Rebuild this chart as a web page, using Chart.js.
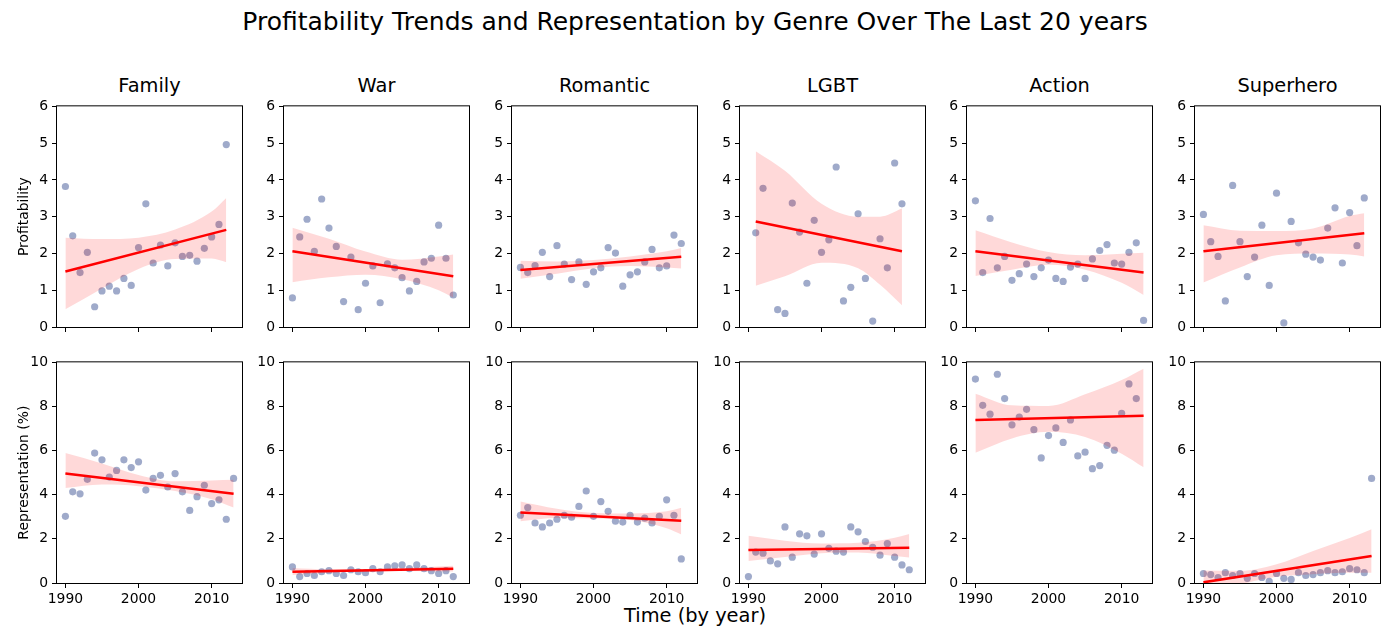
<!DOCTYPE html>
<html>
<head>
<meta charset="utf-8">
<script src="https://cdn.jsdelivr.net/npm/chart.js@4.4.0/dist/chart.umd.min.js"></script>
<style>
body { margin: 0; background: #fff; width: 1390px; height: 636px; position: relative; overflow: hidden; font-family: 'DejaVu Sans', sans-serif; }
canvas { position: absolute; }
.txt { position: absolute; white-space: nowrap; color: #000; line-height: 1; text-align: center; }
</style>
</head>
<body>
<script>
// genres and axes
const genres = ['Family', 'War', 'Romantic', 'LGBT', 'Action', 'Superhero'];
const xTicks = [1990, 2000, 2010];

const years90to12 = [1990, 1991, 1992, 1993, 1994, 1995, 1996, 1997, 1998, 1999, 2000, 2001,
                     2002, 2003, 2004, 2005, 2006, 2007, 2008, 2009, 2010, 2011, 2012];
const years90to13 = [1990, 1991, 1992, 1993, 1994, 1995, 1996, 1997, 1998, 1999, 2000, 2001,
                     2002, 2003, 2004, 2005, 2006, 2007, 2008, 2009, 2010, 2011, 2012, 2013];
const lgbtProfitYears = [1991, 1992, 1994, 1995, 1996, 1997, 1998, 1999, 2000, 2001,
                         2002, 2003, 2004, 2005, 2006, 2007, 2008, 2009, 2010, 2011];

// profitability
const familyProfit = [3.82, 2.48, 1.48, 2.03, 0.55, 0.98, 1.11, 0.98, 1.32, 1.13, 2.16, 3.35, 1.74, 2.23, 1.66, 2.29, 1.92, 1.95, 1.79, 2.14, 2.45, 2.79, 4.96];
const warProfit = [0.79, 2.45, 2.93, 2.06, 3.48, 2.69, 2.19, 0.69, 1.90, 0.47, 1.19, 1.66, 0.66, 1.72, 1.61, 1.34, 0.98, 1.24, 1.77, 1.87, 2.77, 1.87, 0.87];
const romanticProfit = [1.62, 1.48, 1.67, 2.03, 1.37, 2.21, 1.71, 1.29, 1.77, 1.16, 1.50, 1.61, 2.16, 2.01, 1.11, 1.42, 1.50, 1.77, 2.11, 1.61, 1.66, 2.50, 2.27];
const lgbtProfit = [2.56, 3.77, 0.47, 0.37, 3.37, 2.58, 1.19, 2.90, 2.03, 2.37, 4.35, 0.71, 1.08, 3.08, 1.32, 0.16, 2.40, 1.61, 4.46, 3.35];
const actionProfit = [3.43, 1.48, 2.95, 1.61, 1.92, 1.27, 1.45, 1.71, 1.37, 1.61, 1.82, 1.32, 1.24, 1.63, 1.71, 1.32, 1.85, 2.08, 2.24, 1.74, 1.71, 2.03, 2.29, 0.18];
const superheroProfit = [3.06, 2.32, 1.92, 0.71, 3.85, 2.32, 1.37, 1.90, 2.77, 1.13, 3.64, 0.11, 2.87, 2.29, 1.98, 1.90, 1.82, 2.69, 3.24, 1.74, 3.11, 2.21, 3.51];

// representation (%)
const familyRep = [3.02, 4.13, 4.04, 4.70, 5.89, 5.58, 4.80, 5.10, 5.58, 5.23, 5.49, 4.21, 4.74, 4.88, 4.35, 4.96, 4.13, 3.29, 3.91, 4.43, 3.60, 3.77, 2.89, 4.74];
const warRep = [0.73, 0.29, 0.43, 0.34, 0.51, 0.56, 0.43, 0.34, 0.60, 0.51, 0.47, 0.65, 0.51, 0.73, 0.78, 0.82, 0.65, 0.82, 0.65, 0.56, 0.43, 0.56, 0.29];
const romanticRep = [3.07, 3.42, 2.72, 2.54, 2.72, 2.89, 3.07, 2.98, 3.47, 4.17, 3.02, 3.69, 3.25, 2.80, 2.76, 3.07, 2.76, 2.94, 2.72, 3.02, 3.77, 3.07, 1.09];
const lgbtRep = [0.29, 1.40, 1.35, 1.00, 0.87, 2.54, 1.17, 2.23, 2.14, 1.31, 2.23, 1.57, 1.44, 1.40, 2.54, 2.32, 1.88, 1.62, 1.26, 1.79, 1.17, 0.82, 0.60];
const actionRep = [9.24, 8.05, 7.65, 9.46, 8.36, 7.17, 7.52, 7.87, 6.95, 5.67, 6.68, 7.03, 6.37, 7.39, 5.76, 5.93, 5.18, 5.32, 6.24, 6.02, 7.69, 9.02, 8.36];
const superheroRep = [0.43, 0.38, 0.25, 0.47, 0.34, 0.43, 0.21, 0.43, 0.25, 0.07, 0.43, 0.21, 0.16, 0.47, 0.34, 0.38, 0.47, 0.56, 0.47, 0.51, 0.65, 0.60, 0.47, 4.74];

const profitYears = [years90to12, years90to12, years90to12, lgbtProfitYears, years90to13, years90to12];
const profitValues = [familyProfit, warProfit, romanticProfit, lgbtProfit, actionProfit, superheroProfit];
const repYears = [years90to13, years90to12, years90to12, years90to12, years90to12, years90to13];
const repValues = [familyRep, warRep, romanticRep, lgbtRep, actionRep, superheroRep];

// regression lines: start/end year and value
const profitFitYears = [[1990, 2012], [1990, 2012], [1990, 2012], [1991, 2011], [1990, 2013], [1990, 2012]];
const profitFitValues = [[1.51, 2.64], [2.06, 1.38], [1.55, 1.91], [2.87, 2.06], [2.06, 1.48], [2.06, 2.55]];
const repFitYears = [[1990, 2013], [1990, 2012], [1990, 2012], [1990, 2012], [1990, 2013], [1990, 2013]];
const repFitValues = [[4.96, 4.04], [0.51, 0.65], [3.20, 2.82], [1.50, 1.60], [7.39, 7.58], [0.03, 1.22]];

// confidence bands
const profitBandYears = [
    [1990, 1995, 2000, 2005, 2010, 2012],
    [1990, 1995, 2000, 2005, 2010, 2012],
    [1990, 1995, 2000, 2005, 2010, 2012],
    [1991, 1995, 2000, 2005, 2008, 2011],
    [1990, 1995, 2000, 2005, 2010, 2013],
    [1990, 1995, 2000, 2005, 2010, 2012]
];
const profitBandUpper = [
    [2.43, 2.39, 2.43, 2.65, 3.14, 3.51],
    [2.70, 2.40, 2.05, 1.83, 1.92, 1.97],
    [1.80, 1.78, 1.82, 1.92, 2.06, 2.15],
    [4.78, 4.25, 3.35, 3.00, 3.00, 3.22],
    [2.63, 2.30, 2.04, 1.95, 1.99, 2.02],
    [2.77, 2.62, 2.61, 2.68, 3.02, 3.09]
];
const profitBandLower = [
    [0.48, 1.05, 1.58, 1.85, 1.86, 1.76],
    [1.22, 1.35, 1.42, 1.30, 1.00, 0.80],
    [1.31, 1.45, 1.60, 1.66, 1.62, 1.59],
    [1.12, 1.38, 1.75, 1.60, 1.15, 0.59],
    [1.39, 1.56, 1.69, 1.56, 1.20, 0.87],
    [1.21, 1.62, 1.95, 2.00, 1.97, 1.92]
];
const repBandYears = [
    [1990, 1995, 2000, 2005, 2010, 2013],
    [1990, 1995, 2000, 2005, 2012],
    [1990, 1995, 2000, 2005, 2010, 2012],
    [1990, 1995, 2000, 2005, 2010, 2012],
    [1990, 1995, 2000, 2005, 2010, 2013],
    [1990, 1995, 2000, 2005, 2010, 2013]
];
const repBandUpper = [
    [5.89, 5.42, 4.90, 4.61, 4.65, 4.68],
    [0.68, 0.62, 0.63, 0.68, 0.78],
    [3.69, 3.36, 3.17, 3.15, 3.25, 3.41],
    [2.14, 1.92, 1.79, 1.82, 2.05, 2.22],
    [8.58, 8.05, 8.02, 8.55, 9.20, 9.71],
    [0.57, 0.55, 0.85, 1.45, 2.04, 2.44]
];
const repBandLower = [
    [4.30, 4.46, 4.39, 4.17, 3.80, 3.42],
    [0.36, 0.46, 0.52, 0.54, 0.52],
    [2.80, 2.95, 2.92, 2.85, 2.48, 2.20],
    [1.00, 1.18, 1.35, 1.38, 1.22, 1.16],
    [5.90, 6.55, 6.85, 6.62, 5.86, 5.24],
    [-0.60, -0.08, 0.28, 0.40, 0.46, 0.46]
];

// layout
const panelLeft = [57, 284, 512, 740, 967, 1195];
const rowTop = [100, 356];
const plotW = 185, plotH = 227;
const FONT = "'DejaVu Sans', sans-serif";

function addText(text, left, top, width, size) {
    const d = document.createElement('div');
    d.className = 'txt';
    d.textContent = text;
    d.style.left = left + 'px';
    d.style.top = top + 'px';
    d.style.width = width + 'px';
    d.style.fontSize = size + 'px';
    document.body.appendChild(d);
}

function pairs(xs, ys) {
    return xs.map((x, i) => ({ x: x, y: ys[i] }));
}

// full frame around the plot area
const framePlugin = {
    id: 'frame',
    afterDraw(chart) {
        const { ctx, chartArea: a } = chart;
        ctx.save();
        ctx.strokeStyle = '#000';
        ctx.lineWidth = 1;
        ctx.strokeRect(a.left - 0.5, a.top - 0.5, a.right - a.left + 1, a.bottom - a.top + 1);
        ctx.restore();
    }
};

function makePanel(row, col) {
    const padL = col === 0 ? 57 : 40;
    const padR = 6, padT = 6, padB = 26;
    const canvas = document.createElement('canvas');
    canvas.width = plotW + padL + padR;
    canvas.height = plotH + padT + padB;
    canvas.style.left = (panelLeft[col] - padL) + 'px';
    canvas.style.top = (rowTop[row] - padT) + 'px';
    document.body.appendChild(canvas);

    const years = row === 0 ? profitYears[col] : repYears[col];
    const values = row === 0 ? profitValues[col] : repValues[col];
    const fitX = row === 0 ? profitFitYears[col] : repFitYears[col];
    const fitY = row === 0 ? profitFitValues[col] : repFitValues[col];
    const bandX = row === 0 ? profitBandYears[col] : repBandYears[col];
    const bandU = row === 0 ? profitBandUpper[col] : repBandUpper[col];
    const bandL = row === 0 ? profitBandLower[col] : repBandLower[col];

    new Chart(canvas, {
        type: 'scatter',
        data: {
            datasets: [
                {
                    type: 'line',
                    data: pairs(bandX, bandU),
                    fill: '+1',
                    backgroundColor: 'rgba(255, 0, 0, 0.15)',
                    borderWidth: 0,
                    pointRadius: 0,
                    cubicInterpolationMode: 'monotone',
                    order: 2,
                    clip: 0
                },
                {
                    type: 'line',
                    data: pairs(bandX, bandL),
                    fill: false,
                    borderWidth: 0,
                    pointRadius: 0,
                    cubicInterpolationMode: 'monotone',
                    order: 2,
                    clip: 0
                },
                {
                    type: 'line',
                    data: pairs(fitX, fitY),
                    fill: false,
                    borderColor: 'rgb(255, 0, 0)',
                    borderWidth: 2.5,
                    pointRadius: 0,
                    order: 1,
                    clip: 0
                },
                {
                    data: pairs(years, values),
                    backgroundColor: 'rgba(64, 86, 150, 0.5)',
                    borderWidth: 0,
                    pointRadius: 3.6,
                    order: 3,
                    clip: 0
                }
            ]
        },
        options: {
            responsive: false,
            animation: false,
            events: [],
            layout: { autoPadding: false, padding: { left: 0, right: padR, top: padT, bottom: 0 } },
            plugins: { legend: { display: false }, tooltip: { enabled: false } },
            scales: {
                x: {
                    type: 'linear',
                    min: 1988.85,
                    max: 2014.15,
                    afterBuildTicks: axis => { axis.ticks = xTicks.map(v => ({ value: v })); },
                    afterFit: axis => { axis.height = padB; },
                    grid: { drawOnChartArea: false, tickLength: 5, color: '#000', tickColor: '#000' },
                    border: { display: false },
                    ticks: {
                        display: row === 1,
                        color: '#000',
                        padding: 3,
                        maxRotation: 0,
                        callback: v => String(v),
                        font: { family: FONT, size: 13.9 }
                    }
                },
                y: {
                    min: 0,
                    max: row === 0 ? 6 : 10,
                    afterFit: axis => { axis.width = padL; },
                    grid: { drawOnChartArea: false, tickLength: 5, color: '#000', tickColor: '#000' },
                    border: { display: false },
                    ticks: {
                        stepSize: row === 0 ? 1 : 2,
                        color: '#000',
                        padding: 4,
                        font: { family: FONT, size: 13.9 }
                    },
                    title: {
                        display: col === 0,
                        text: row === 0 ? 'Profitability' : 'Representation (%)',
                        color: '#000',
                        padding: { top: 16, bottom: 0 },
                        font: { family: FONT, size: 13.9 }
                    }
                }
            }
        },
        plugins: [framePlugin]
    });
}

addText('Profitability Trends and Representation by Genre Over The Last 20 years', 0, 9, 1390, 25);
genres.forEach((g, col) => addText(g, panelLeft[col], 75.5, plotW, 19.4));
addText('Time (by year)', 0, 606, 1390, 19.4);

for (let row = 0; row < 2; row++) {
    for (let col = 0; col < genres.length; col++) {
        makePanel(row, col);
    }
}
</script>
</body>
</html>
